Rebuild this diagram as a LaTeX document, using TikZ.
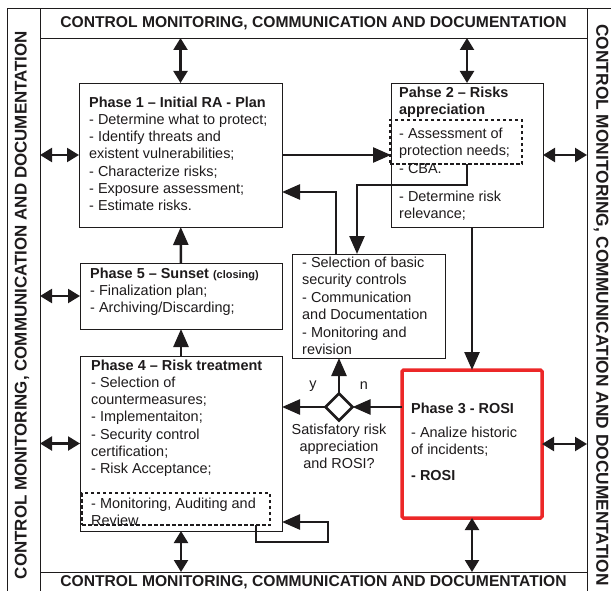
\documentclass[tikz,border=0pt]{standalone}
\usepackage{fontspec}
\setmainfont{Liberation Sans}
\usetikzlibrary{arrows.meta,shapes.geometric}
\definecolor{framered}{RGB}{236,39,40}
\definecolor{ink}{RGB}{30,27,28}
\begin{document}
\begin{tikzpicture}[x=1bp,y=-1bp,
  frame/.style={draw=ink,line width=0.9bp},
  box/.style={draw=ink,line width=0.9bp,fill=white,inner sep=0pt,outer sep=0pt,anchor=north west},
  redbox/.style={draw=framered,line width=3.5bp,rounded corners=1.5bp,fill=white,inner sep=0pt,outer sep=0pt,anchor=north west},
  dotbox/.style={draw=ink,line width=1.8bp,dash pattern=on 3.5bp off 2.5bp,inner sep=0pt,outer sep=0pt,anchor=north west},
  txt/.style={inner sep=0pt,anchor=north west,align=left,text=ink,font=\fontsize{14.5}{17.3}\selectfont},
  band/.style={inner sep=0pt,text=ink,font=\bfseries\fontsize{15.7}{18}\selectfont},
  sideband/.style={band,font=\bfseries\fontsize{17}{19}\selectfont},
  dbl/.style={{Triangle[length=12bp,width=14bp]}-{Triangle[length=12bp,width=14bp]},line width=2.2bp,draw=ink},
  flow/.style={-{Triangle[length=18bp,width=15bp]},line width=2.5bp,draw=ink},
]
\useasboundingbox (0,0) rectangle (611,591);

% outer frame and the four monitoring bands
\coordinate (tl) at (7,8);
\coordinate (bl) at (7,591);
\coordinate (tr) at (611,8);
\coordinate (lb) at (40,38);
\coordinate (rb) at (587,572);
\draw[frame] (bl) -- (tl) -- (tr);
\draw[frame] (lb |- bl) -- (lb |- tl);
\draw[frame] (rb |- bl) -- (rb |- tl);
\draw[frame] (lb) -- (rb |- lb);
\draw[frame] (lb |- rb) -- (rb);

\node[band] (topband) at (313.5,23) {CONTROL MONITORING, COMMUNICATION AND DOCUMENTATION};
\node[band] (botband) at (313.5,582) {CONTROL MONITORING, COMMUNICATION AND DOCUMENTATION};
\node[sideband,rotate=90] (leftband) at (22,305) {CONTROL MONITORING, COMMUNICATION AND DOCUMENTATION};
\node[sideband,rotate=-90,font=\bfseries\fontsize{17.4}{19}\selectfont] (rightband) at (601,305) {CONTROL MONITORING, COMMUNICATION AND DOCUMENTATION};

% phase boxes
\node[box,minimum width=203bp,minimum height=144bp] (p1) at (79,83) {};
\node[box,minimum width=152bp,minimum height=144bp] (p2) at (391,83) {};
\node[box,minimum width=153bp,minimum height=104bp] (sel) at (292,254) {};
\node[box,minimum width=202bp,minimum height=66bp] (p5) at (80,263) {};
\node[box,minimum width=202bp,minimum height=175bp] (p4) at (80,356) {};
\node[redbox,minimum width=140bp,minimum height=148bp] (p3) at (402,370) {};
\node[dotbox,minimum width=132bp,minimum height=44bp] (d2) at (390,120) {};
\node[dotbox,minimum width=188bp,minimum height=32bp] (d4) at (82,493) {};

% box texts
\node[txt] (t1) at (89,96.5) {\textbf{Phase 1 – Initial RA - Plan}\\- Determine what to protect;\\- Identify threats and\\existent vulnerabilities;\\- Characterize risks;\\- Exposure assessment;\\- Estimate risks.};
\node[txt] (t2a) at (399,86.5) {\textbf{Pahse 2 – Risks}\\\textbf{appreciation}};
\node[txt] (t2b) at (399,127.5) {- Assessment of\\protection needs;};
\node[txt] (t2c) at (399,163) {- CBA.};
\node[txt] (t2d) at (399,190.5) {- Determine risk\\relevance;};
\node[txt,font=\fontsize{14.5}{17.6}\selectfont] (ts) at (302,256.5) {- Selection of basic\\security controls\\- Communication\\and Documentation\\- Monitoring and\\revision};
\node[txt] (t5) at (90,267.5) {\textbf{Phase 5 – Sunset {\fontsize{11}{13}\selectfont(closing)}}\\- Finalization plan;\\- Archiving/Discarding;};
\node[txt] (t4) at (91,359.5) {\textbf{Phase 4 – Risk treatment}\\- Selection of\\countermeasures;\\- Implementaiton;\\- Security control\\certification;\\- Risk Acceptance;};
\node[txt] (t4b) at (91,497.5) {- Monitoring, Auditing and\\Review};
\node[txt] (t3a) at (411,402.5) {\textbf{Phase 3 - ROSI}};
\node[txt] (t3b) at (411,426.5) {- Analize historic\\of incidents;};
\node[txt] (t3c) at (411,470.5) {\textbf{- ROSI}};

% decision
\node[diamond,draw=ink,line width=2.5bp,fill=white,inner sep=0pt,outer sep=0pt,minimum width=27bp,minimum height=27bp] (dec) at (339,407) {};
\node[txt,anchor=north,align=center] (declabel) at (339,423.5) {Satisfatory risk\\appreciation\\and ROSI?};
\node[txt,anchor=center] (ylab) at (313,386) {y};
\node[txt,anchor=center] (nlab) at (364,386) {n};

% links to the monitoring bands
\draw[dbl] (p1.north) -- (p1.north |- lb);
\draw[dbl] (p2.north) -- (p2.north |- lb);
\draw[dbl] (p1.west) -- (p1.west -| lb);
\draw[dbl] (p5.west) -- (p5.west -| lb);
\draw[dbl] (p4.west) -- (p4.west -| lb);
\draw[dbl] (p2.east) -- (p2.east -| rb);
\draw[dbl] (p3.east) -- (p3.east -| rb);
\draw[dbl] (p4.south) -- (p4.south |- rb);
\draw[dbl] (p3.south) -- (p3.south |- rb);

% process flow
\coordinate (cbaX) at (467,185);
\coordinate (selIn) at (357,0);
\coordinate (selOut) at (336,192);
\coordinate (loopA) at (256,542);
\coordinate (loopB) at (328,522);
\draw[flow] (p1) -- (p2);
\draw[flow] (d2.south -| cbaX) -- (cbaX) -| (sel.north -| selIn);
\draw[flow] (sel.north -| selOut) |- (p1.east |- selOut);
\draw[flow] (p2.south -| p3.north) -- (p3.north);
\draw[flow] (p5) -- (p1);
\draw[flow] (p4) -- (p5);
\draw[flow] (p3.west |- dec) -- (dec.east);
\draw[flow] (dec.west) -- (p4.east |- dec);
\draw[flow] (dec.north) -- (sel.south -| dec);
\draw[flow] (d4.south -| loopA) |- (loopA -| loopB) -- (loopB) -- (p4.east |- loopB);
\end{tikzpicture}
\end{document}
